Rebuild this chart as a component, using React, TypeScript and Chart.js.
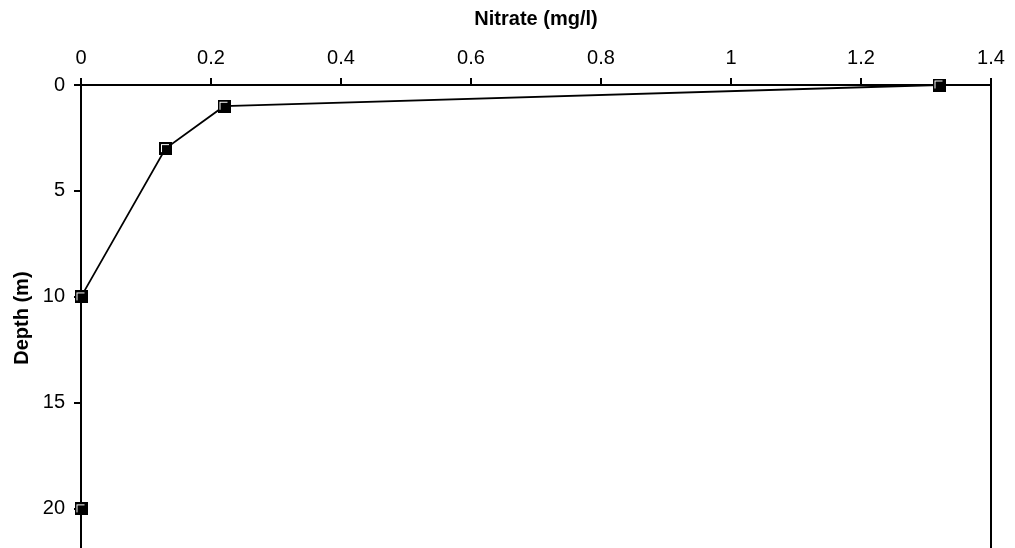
import React, { useEffect, useRef } from "react";
import { Chart, registerables } from "chart.js";

Chart.register(...registerables);

const nitrate = [1.32, 0.22, 0.13, 0, 0];
const depth = [0, 1, 3, 10, 20];
const xTickValues = [0, 0.2, 0.4, 0.6, 0.8, 1, 1.2, 1.4];
const xTickLabels = ["0", "0.2", "0.4", "0.6", "0.8", "1", "1.2", "1.4"];
const yTickValues = [0, 5, 10, 15, 20];
const yTickLabels = ["0", "5", "10", "15", "20"];

function labelFor(values: number[], labels: string[], v: number): string {
  const i = values.findIndex((t) => Math.abs(t - v) < 1e-6);
  return i >= 0 ? labels[i] : "";
}

function makeMarker(): HTMLCanvasElement {
  const c = document.createElement("canvas");
  c.width = 13;
  c.height = 13;
  const g = c.getContext("2d")!;
  g.fillStyle = "#000";
  g.fillRect(0, 0, 13, 13);
  g.fillStyle = "#fff";
  g.fillRect(2, 2, 8, 1);
  g.fillRect(2, 2, 1, 8);
  return c;
}

export default function App() {
  const ref = useRef<HTMLCanvasElement | null>(null);
  useEffect(() => {
    if (!ref.current) return;
    const marker = makeMarker();
    const font = { family: "'Liberation Sans', Arial, sans-serif", size: 20 };
    const chart = new Chart(ref.current, {
      type: "scatter",
      data: {
        datasets: [
          {
            data: nitrate.map((x, i) => ({ x, y: depth[i] })),
            showLine: true,
            borderColor: "#000",
            borderWidth: 1.8,
            pointStyle: marker as any,
            pointRadius: 6,
            backgroundColor: "#000",
            clip: false,
            xAxisID: "x",
            yAxisID: "y",
          },
        ],
      },
      options: {
        animation: false,
        responsive: false,
        layout: { padding: 0 },
        plugins: { legend: { display: false }, tooltip: { enabled: false } },
        scales: {
          x: {
            type: "linear",
            position: "top",
            min: 0,
            max: 1.4,
            ticks: {
              stepSize: 0.2,
              color: "#000",
              font,
              padding: 8,
              includeBounds: false,
              callback: (v: any) => labelFor(xTickValues, xTickLabels, Number(v)),
            },
            grid: { drawOnChartArea: false, color: "#000", tickLength: 7, lineWidth: 2 },
            border: { display: true, color: "#000", width: 2 },
            title: {
              display: true,
              text: "Nitrate (mg/l)",
              color: "#000",
              font: { ...font, weight: "bold" },
              padding: { top: 7, bottom: 0 },
            },
            afterFit: (s: any) => {
              s.height = 85;
              s.paddingLeft = 0;
              s.paddingRight = 0;
            },
          },
          y: {
            type: "linear",
            position: "left",
            reverse: true,
            min: 0,
            max: 22,
            ticks: {
              stepSize: 5,
              color: "#000",
              font,
              padding: 9,
              includeBounds: false,
              callback: (v: any) => labelFor(yTickValues, yTickLabels, Number(v)),
            },
            grid: { drawOnChartArea: false, color: "#000", tickLength: 7, lineWidth: 2 },
            border: { display: true, color: "#000", width: 2 },
            title: {
              display: true,
              text: "Depth (m)",
              color: "#000",
              font: { ...font, weight: "bold" },
              padding: { top: 10, bottom: 0 },
            },
            afterFit: (s: any) => {
              s.width = 81;
              s.paddingTop = 0;
              s.paddingBottom = 0;
            },
          },
          y2: {
            type: "linear",
            position: "right",
            min: 0,
            max: 22,
            ticks: { display: false },
            grid: { display: false },
            border: { display: true, color: "#000", width: 2 },
            afterFit: (s: any) => {
              s.width = 24;
              s.paddingTop = 0;
              s.paddingBottom = 0;
            },
          },
        },
      },
    });
    return () => chart.destroy();
  }, []);
  return (
    <div style={{ position: "absolute", left: 0, top: 0, width: 1015, height: 548, overflow: "hidden", background: "#fff" }}>
      <canvas ref={ref} width={1015} height={559} />
    </div>
  );
}
